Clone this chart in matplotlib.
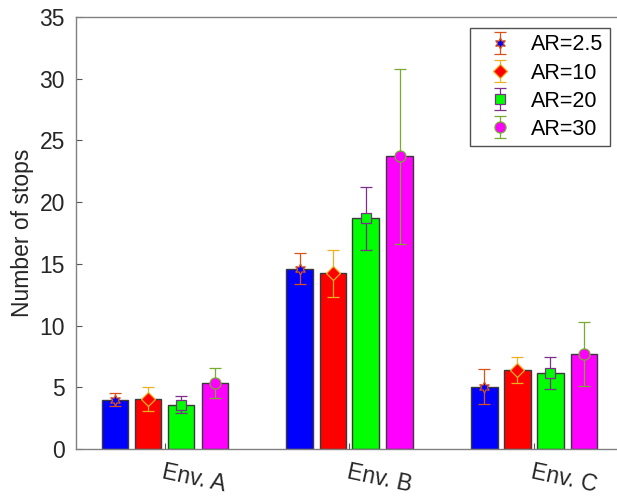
import numpy as np
import matplotlib.pyplot as plt
from matplotlib.lines import Line2D

plt.rcParams['font.family'] = ['Liberation Sans', 'DejaVu Sans']

envs = ['Env. A', 'Env. B', 'Env. C']
series = ['AR=2.5', 'AR=10', 'AR=20', 'AR=30']

# mean number of stops per environment, one list per aspect ratio
ar_2_5 = [4.0, 14.6, 5.05]
ar_10 = [4.05, 14.25, 6.4]
ar_20 = [3.6, 18.7, 6.15]
ar_30 = [5.35, 23.7, 7.7]
means = [ar_2_5, ar_10, ar_20, ar_30]

# standard deviations
sd_2_5 = [0.5, 1.27, 1.4]
sd_10 = [1.0, 1.9, 1.07]
sd_20 = [0.72, 2.55, 1.27]
sd_30 = [1.25, 7.1, 2.6]
sds = [sd_2_5, sd_10, sd_20, sd_30]

bar_colors = ['#0000ff', '#ff0000', '#00ff00', '#ff00ff']
err_colors = ['#D95319', '#EDB120', '#7E2F8E', '#77AC30']
markers = [(6, 1, 0), 'D', 's', 'o']
msizes = [8, 7, 6.5, 8]

fig = plt.figure(figsize=(6.17, 5.01), dpi=100)
ax = fig.add_axes([76 / 617, 52 / 501, 550.25 / 617, 432 / 501])

x = np.arange(1, len(envs) + 1)
offsets = [-0.268, -0.089, 0.089, 0.272]
width = 0.144

handles = []
for i in range(4):
    xs = x + offsets[i]
    ax.bar(xs, means[i], width, color=bar_colors[i], edgecolor='#3a3a3a',
           linewidth=1.0, zorder=2)
    eb = ax.errorbar(xs, means[i], yerr=sds[i], fmt='none', ecolor=err_colors[i],
                     elinewidth=0.9, capsize=4, capthick=0.9, zorder=3)
    ax.plot(xs, means[i], linestyle='none', marker=markers[i], ms=msizes[i],
            mfc=bar_colors[i], mec=err_colors[i], mew=0.9, zorder=4)
    handles.append(eb)

# legend handles: error bar with the marker on top
leg_handles = []
for i in range(4):
    leg_handles.append((handles[i], Line2D([], [], linestyle='none', marker=markers[i],
                                           ms=msizes[i], mfc=bar_colors[i],
                                           mec=err_colors[i], mew=0.9)))

leg = ax.legend(leg_handles, series, loc='upper right',
                bbox_to_anchor=(610 / 617, 1 - 28 / 501), bbox_transform=fig.transFigure,
                borderaxespad=0, fontsize=15.5, frameon=True, fancybox=False,
                edgecolor='#262626', handlelength=2.2, handletextpad=0.36,
                labelspacing=0.33, borderpad=0.3)
leg.get_frame().set_linewidth(1.0)

ax.set_xlim(0.52, 3.5)
ax.set_ylim(0, 35)
ax.set_yticks(np.arange(0, 36, 5))
ax.set_xticks(x)
ax.set_xticklabels(envs, rotation=-12, ha='left', rotation_mode='anchor')
ax.tick_params(axis='both', direction='in', length=4, width=0.8, color='#555555',
               labelsize=16.5, labelcolor='#262626')
ax.tick_params(axis='x', pad=8)
ax.tick_params(axis='y', pad=8)
ax.set_ylabel('Number of stops', fontsize=16.5, color='#262626', labelpad=4)

for s in ax.spines.values():
    s.set_color('#808080')
    s.set_linewidth(1.0)

fig.savefig('out.png', dpi=100)
